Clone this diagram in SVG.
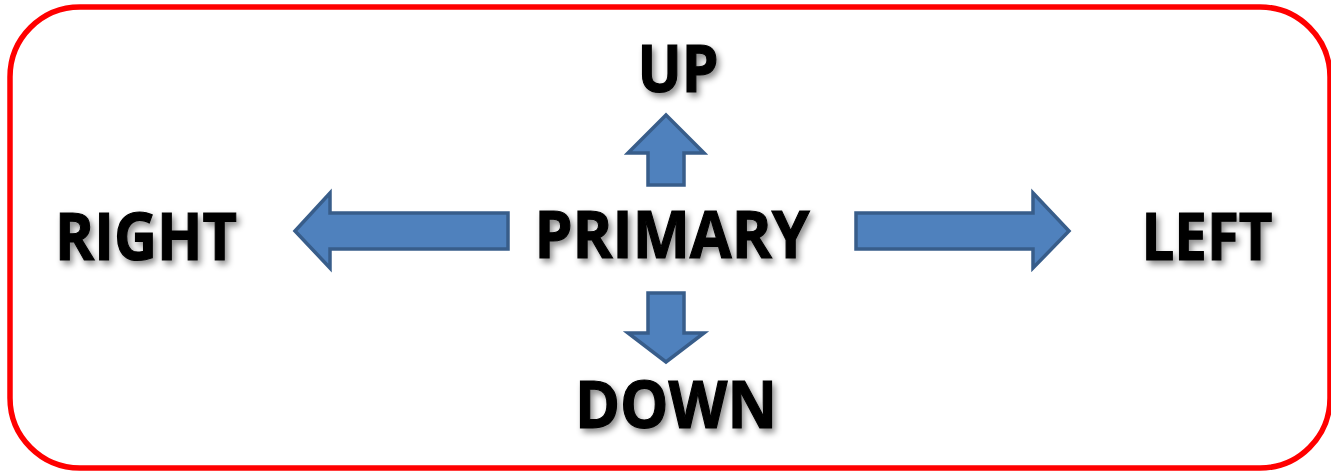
<svg xmlns="http://www.w3.org/2000/svg" width="1331" height="472" viewBox="0 0 1331 472">
  <defs>
    <filter id="shadow" x="-10%" y="-20%" width="130%" height="160%">
      <feDropShadow dx="3" dy="4" stdDeviation="3" flood-color="#000" flood-opacity="0.45"/>
    </filter>
    <style>
      .lbl { font-family: "Open Sans", "Liberation Sans", sans-serif; font-weight: bold; font-size: 67px; fill: #000; stroke: #000; stroke-width: 1.2; text-anchor: middle; filter: url(#shadow); }
      .arrow { fill: #4F81BD; stroke: #385D8A; stroke-width: 3.5; stroke-linejoin: miter; }
      .frame { fill: #fff; stroke: #FF0000; stroke-width: 5.5; }
    </style>
  </defs>
  <rect width="1331" height="472" fill="#fff"/>
  <rect class="frame" x="10" y="7" width="1320" height="461" rx="70" ry="70"/>

  <g id="connectors">
    <polygon class="arrow" points="508,213 330,213 330,193 295,231 330,268 330,249 508,249"/>
    <polygon class="arrow" points="856,213 1033,213 1033,193 1069,231 1033,268 1033,249 856,249"/>
    <polygon class="arrow" points="648,185 648,153 628,153 666,115 704,153 684,153 684,185"/>
    <polygon class="arrow" points="648,293 648,333 628,333 666,362 704,333 684,333 684,293"/>
  </g>

  <g id="node-primary"><text class="lbl" x="672" y="258" textLength="275" lengthAdjust="spacingAndGlyphs">PRIMARY</text></g>
  <g id="node-up"><text class="lbl" x="678" y="92" textLength="81" lengthAdjust="spacingAndGlyphs">UP</text></g>
  <g id="node-down"><text class="lbl" x="676" y="428" textLength="202" lengthAdjust="spacingAndGlyphs">DOWN</text></g>
  <g id="node-right"><text class="lbl" x="146" y="260" textLength="182" lengthAdjust="spacingAndGlyphs">RIGHT</text></g>
  <g id="node-left"><text class="lbl" x="1207" y="260" textLength="131" lengthAdjust="spacingAndGlyphs">LEFT</text></g>
</svg>
